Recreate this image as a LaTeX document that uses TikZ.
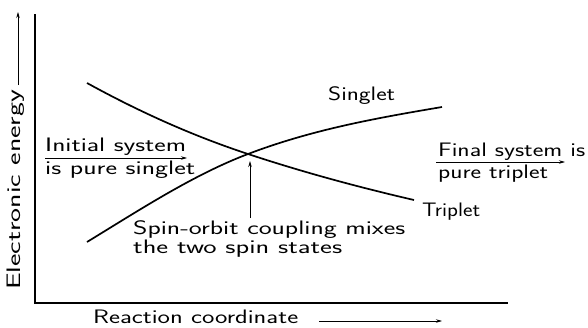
\documentclass[tikz,border=0pt]{standalone}
\usepackage{graphicx}
\usetikzlibrary{arrows.meta}
% wide lettering: the sans text is stretched horizontally to a given width
\newcommand{\widetext}[2]{\resizebox{#1}{\height}{#2}}
\tikzset{
  axisline/.style={line width=1.6pt},
  curve/.style={line width=1.7pt},
  pointer/.style={line width=0.7pt,-{Stealth[length=6pt,width=3.5pt]}},
  lbl/.style={inner sep=0pt,anchor=base west,font=\sffamily\fontsize{19.5}{22}\selectfont}
}
\begin{document}
\begin{tikzpicture}[x=1pt,y=-1pt]
\useasboundingbox (0,0) rectangle (588,327);

% axes
\coordinate (ytop) at (35,14);
\coordinate (origin) at (35,303);
\coordinate (xend) at (508,303);
\draw[axisline] (ytop) -- (origin) -- (xend);

% potential energy curves meeting at the crossing point
\coordinate (s0) at (87,242);
\coordinate (cross) at (248,154);
\coordinate (s1) at (442,107);
\coordinate (t0) at (87,83);
\coordinate (t1) at (414,200);
\draw[curve] (s0) .. controls (141,209) and (194,174.5) .. (cross)
                  .. controls (313,129.3) and (377,118) .. (s1);
\draw[curve] (t0) .. controls (141,112.7) and (194,136.2) .. (cross)
                  .. controls (303,172.2) and (359,187.3) .. (t1);

% state labels
\node[lbl] (singlet) at (328,100) {\widetext{67pt}{Singlet}};
\node[lbl] (triplet) at (422,216) {\widetext{58pt}{Triplet}};

% initial system
\node[lbl] (init1) at (45,151) {\widetext{141pt}{Initial system}};
\node[lbl] (init2) at (45,174) {\widetext{150pt}{is pure singlet}};
\coordinate (initA) at (45,158);
\coordinate (initB) at (187,158);
\draw[pointer] (initA) -- (initB);

% final system
\node[lbl] (fin1) at (438,156) {\widetext{147pt}{Final system is}};
\node[lbl] (fin2) at (438,178) {\widetext{110pt}{pure triplet}};
\coordinate (finA) at (436,162);
\coordinate (finB) at (565,162);
\draw[pointer] (finA) -- (finB);

% spin-orbit coupling note
\node[lbl] (soc1) at (133,234) {\widetext{272pt}{Spin-orbit coupling mixes}};
\node[lbl] (soc2) at (133,253) {\widetext{209pt}{the two spin states}};
\coordinate (socA) at (250,218);
\coordinate (socB) at (250,161);
\draw[pointer] (socA) -- (socB);

% axis titles
\node[lbl] (xlab) at (93,323) {\widetext{205pt}{Reaction coordinate}};
\coordinate (xarrA) at (319,321);
\coordinate (xarrB) at (442,321);
\draw[pointer] (xarrA) -- (xarrB);

\node[lbl,rotate=90] (ylab) at (20,290) {\widetext{200pt}{Electronic energy}};
\coordinate (yarrA) at (18,85);
\coordinate (yarrB) at (18,12);
\draw[pointer] (yarrA) -- (yarrB);
\end{tikzpicture}
\end{document}
